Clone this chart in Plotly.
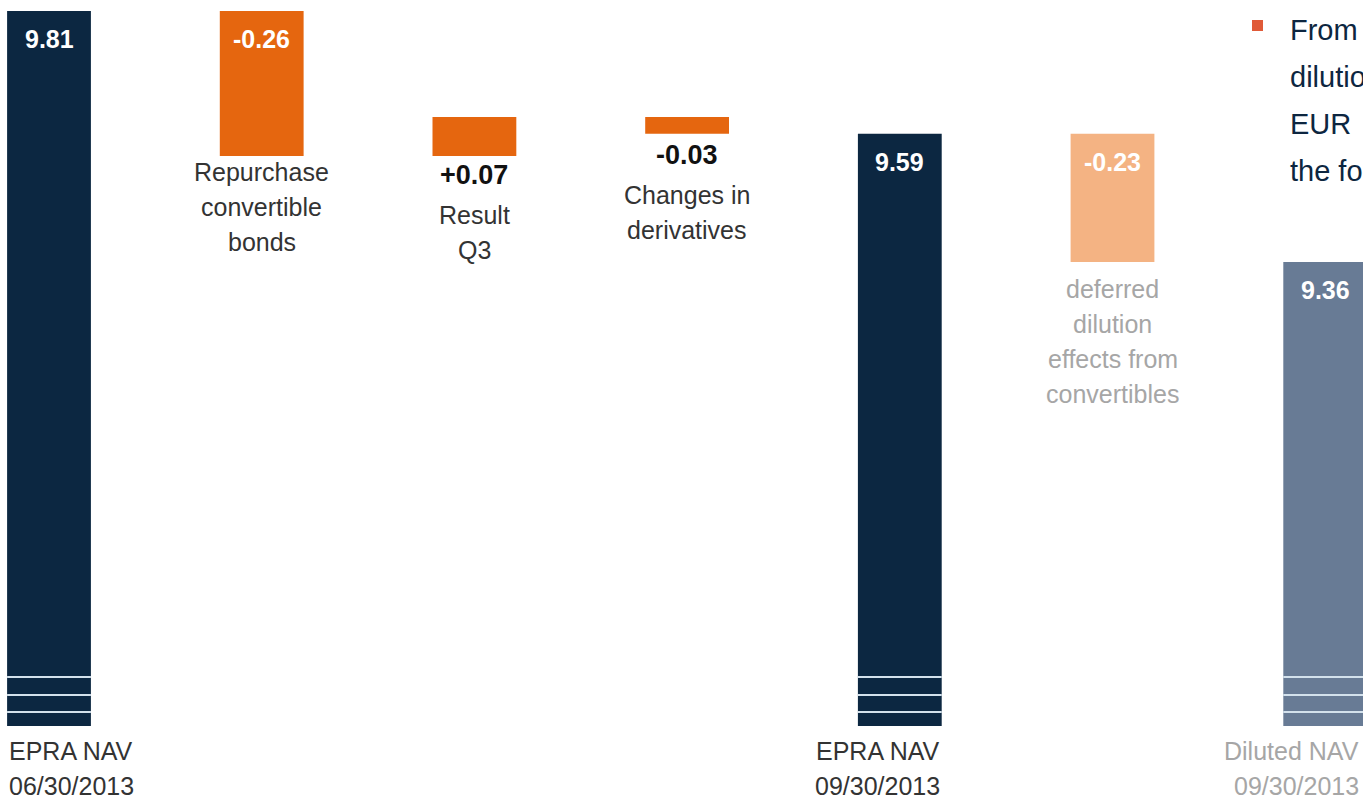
import plotly.graph_objects as go

# ---------------- data ----------------
categories = ["EPRA NAV 06/30/2013", "Repurchase convertible bonds", "Result Q3",
              "Changes in derivatives", "EPRA NAV 09/30/2013",
              "deferred dilution effects from convertibles", "Diluted NAV 09/30/2013"]
values = [9.81, -0.26, 0.07, -0.03, 9.59, -0.23, 9.36]
kinds = ["total", "delta", "delta", "delta", "total", "delta", "total"]
value_labels = ["9.81", "-0.26", "+0.07", "-0.03", "9.59", "-0.23", "9.36"]
label_lines = [["EPRA NAV", "06/30/2013"], ["Repurchase", "convertible", "bonds"],
               ["Result", "Q3"], ["Changes in", "derivatives"], ["EPRA NAV", "09/30/2013"],
               ["deferred", "dilution", "effects from", "convertibles"],
               ["Diluted NAV", "09/30/2013"]]
side_text = ["From", "dilution", "EUR", "the fo"]

# ---------------- styles ----------------
NAVY = "#0c2741"
ORANGE = "#e5660f"
LIGHT_ORANGE = "#f4b383"
GREYBLUE = "#687b95"
bar_colors = [NAVY, ORANGE, ORANGE, ORANGE, NAVY, LIGHT_ORANGE, GREYBLUE]
FONT = "Liberation Sans, Arial, sans-serif"
DARK_TXT = "#333333"
LIGHT_TXT = "#a6a6a6"

W, H = 1363, 801
PLOT_H = 726
Y_TOP, Y_BOT = 9.8297, 8.5286
X_RANGE = [-0.2304, 6.1777]
BAR_W = 0.394
LBL = 25

def xpaper(x):
    return (x - X_RANGE[0]) / (X_RANGE[1] - X_RANGE[0])

# waterfall geometry from data
bases, heights, tops, bottoms = [], [], [], []
running = 0.0
for v, k in zip(values, kinds):
    if k == "total":
        b, h = 0.0, v
        running = v
    else:
        b, h = min(running, running + v), abs(v)
        running += v
    bases.append(b)
    heights.append(h)
    bottoms.append(b if k == "delta" else Y_BOT)
    tops.append(b + h)

x_idx = list(range(len(categories)))

fig = go.Figure(go.Bar(
    x=x_idx, y=heights, base=bases, width=BAR_W,
    marker=dict(color=bar_colors, line=dict(width=0)),
    hovertext=categories, hoverinfo="text",
))

ann = []

def line_stack(x, y, lines, first_shift, spacing, size, color, xanchor="center",
               yref="y", xref="x", family=FONT, xshift=0):
    for i, t in enumerate(lines):
        ann.append(dict(x=x, y=y, xref=xref, yref=yref, text=t, showarrow=False,
                        xanchor=xanchor, yanchor="middle", xshift=xshift,
                        yshift=first_shift - i * spacing,
                        font=dict(family=family, size=size, color=color)))

# value labels inside bars
for i, k in enumerate(kinds):
    if i not in (2, 3):
        ann.append(dict(x=i, y=tops[i], xref="x", yref="y", text="<b>%s</b>" % value_labels[i],
                        showarrow=False, yanchor="middle", yshift=-28,
                        font=dict(family=FONT, size=25, color="white")))

# delta bars 2 and 3: bold value below the bar, then description
for i, shift in ((2, -19), (3, -21)):
    ann.append(dict(x=i, y=bottoms[i], xref="x", yref="y", text="<b>%s</b>" % value_labels[i],
                    showarrow=False, yanchor="middle", yshift=shift,
                    font=dict(family=FONT, size=27, color="#111111")))
    line_stack(i, bottoms[i], label_lines[i], shift - 40, 35, LBL, DARK_TXT)

# descriptions below other delta bars
line_stack(1, bottoms[1], label_lines[1], -16, 35, LBL, DARK_TXT)
line_stack(5, bottoms[5], label_lines[5], -27, 35, LBL, LIGHT_TXT)

# total labels under axis
for i, anchor, col, xs in ((0, "left", DARK_TXT, 0), (4, "right", DARK_TXT, 0),
                           (6, "right", LIGHT_TXT, -6)):
    xx = i - BAR_W / 2 if anchor == "left" else i + BAR_W / 2
    line_stack(xpaper(xx), 0, label_lines[i], -25, 35, LBL, col, xanchor=anchor,
               yref="paper", xref="paper", xshift=xs)

# side text block (clipped at the right edge like the slide)
for j, t in enumerate(side_text):
    ann.append(dict(x=1288 / W, y=1 - (30 + 47 * j) / PLOT_H, xref="paper", yref="paper",
                    text=t, showarrow=False, xanchor="left", yanchor="middle",
                    font=dict(family=FONT, size=29, color="#0d2640")))

shapes = [dict(type="rect", xref="paper", yref="paper",
               x0=1252 / W, x1=1263 / W, y0=1 - 31 / PLOT_H, y1=1 - 20 / PLOT_H,
               fillcolor="#e05a38", line=dict(width=0))]

# axis-break lines on total bars
for i, k in enumerate(kinds):
    if k == "total":
        for py in (14, 31, 49):
            shapes.append(dict(type="line", xref="x", yref="y domain",
                               x0=i - BAR_W / 2, x1=i + BAR_W / 2,
                               y0=py / PLOT_H, y1=py / PLOT_H,
                               line=dict(color="#d3e1ec", width=2)))

fig.update_layout(
    width=W, height=H,
    margin=dict(l=0, r=0, t=0, b=H - PLOT_H, pad=0),
    paper_bgcolor="white", plot_bgcolor="white",
    showlegend=False,
    xaxis=dict(range=X_RANGE, visible=False, fixedrange=True),
    yaxis=dict(range=[Y_BOT, Y_TOP], visible=False, fixedrange=True),
    annotations=ann, shapes=shapes,
    font=dict(family=FONT),
)

fig.write_html("out.html", config={"displayModeBar": False})
